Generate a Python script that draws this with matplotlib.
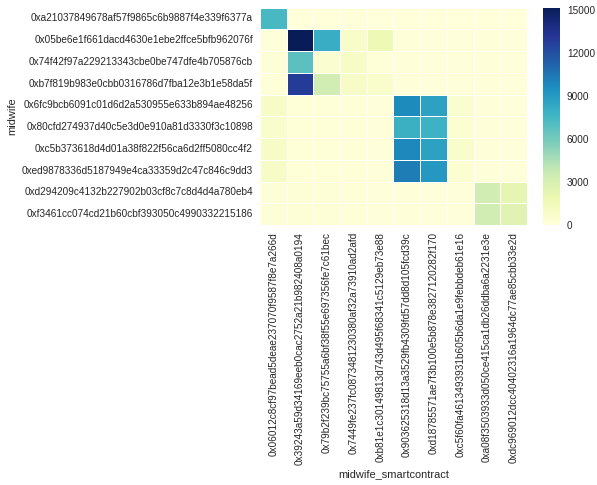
import matplotlib
matplotlib.use("Agg")
import matplotlib.pyplot as plt
import seaborn as sns
import pandas as pd

midwife = [
    "0xa21037849678af57f9865c6b9887f4e339f6377a",
    "0x05be6e1f661dacd4630e1ebe2ffce5bfb962076f",
    "0x74f42f97a229213343cbe0be747dfe4b705876cb",
    "0xb7f819b983e0cbb0316786d7fba12e3b1e58da5f",
    "0x6fc9bcb6091c01d6d2a530955e633b894ae48256",
    "0x80cfd274937d40c5e3d0e910a81d3330f3c10898",
    "0xc5b373618d4d01a38f822f56ca6d2ff5080cc4f2",
    "0xed9878336d5187949e4ca33359d2c47c846c9dd3",
    "0xd294209c4132b227902b03cf8c7c8d4d4a780eb4",
    "0xf3461cc074cd21b60cbf393050c4990332215186",
]
contracts = [
    "0x06012c8cf97bead5deae237070f9587f8e7a266d",
    "0x39243a59d34169eeb0cac2752a21b982408a0194",
    "0x79b2f239bc75755a6bf38f55e697356fe7c61bec",
    "0x7449fe237fc0873481230380af32a73910ad2afd",
    "0xb81e1c30149813d743d495f68341c5129eb73e88",
    "0x903625318d13a3529fb4309fd57dd8d105fcd39c",
    "0xd18785571ae7f3b100e5b878e3827120282f170",
    "0xc5f60fa4613493931b605b6da1e9febbdeb61e16",
    "0xa08f3503933d050ce415ca1db26ddba6a2231e3e",
    "0xdc969012dcc40402316a1964dc77ae85cbb33e2d",
]

# values per midwife row
row_a210 = [7400, 40, 40, 60, 40, 40, 40, 30, 30, 30]
row_05be = [60, 15170, 8000, 800, 1700, 80, 80, 60, 60, 60]
row_74f4 = [200, 6700, 500, 900, 150, 80, 80, 60, 60, 60]
row_b7f8 = [150, 12900, 3300, 900, 700, 100, 100, 60, 60, 60]
row_6fc9 = [900, 150, 150, 150, 100, 9700, 8700, 500, 100, 100]
row_80cf = [600, 150, 150, 150, 100, 7900, 7800, 400, 100, 100]
row_c5b3 = [900, 150, 150, 150, 100, 9800, 8700, 600, 100, 100]
row_ed98 = [900, 150, 150, 150, 100, 10200, 9100, 400, 100, 100]
row_d294 = [200, 200, 200, 150, 100, 100, 100, 100, 3300, 2300]
row_f346 = [200, 200, 200, 150, 100, 100, 100, 100, 3300, 2600]

data = pd.DataFrame(
    [row_a210, row_05be, row_74f4, row_b7f8, row_6fc9,
     row_80cf, row_c5b3, row_ed98, row_d294, row_f346],
    index=midwife, columns=contracts)
data.index.name = "midwife"
data.columns.name = "midwife_smartcontract"

sns.set_style("darkgrid")
plt.rcParams['font.family'] = ['Liberation Sans', 'DejaVu Sans']
plt.rcParams['xtick.labelsize'] = 10
plt.rcParams['ytick.labelsize'] = 10
plt.rcParams['axes.labelsize'] = 11
plt.rcParams['xtick.major.pad'] = 7
plt.rcParams['ytick.major.pad'] = 7

fig = plt.figure(figsize=(597/72, 485/72), dpi=72)
ax = fig.add_axes([0.4355, 0.536, 0.4472, 0.4485])
cax = fig.add_axes([0.9095, 0.536, 0.0285, 0.4485])
sns.heatmap(data, cmap="YlGnBu", linewidths=1, linecolor="white",
            vmin=0, ax=ax, cbar_ax=cax)
cax.set_yticks([0, 3000, 6000, 9000, 12000, 15000])
cax.tick_params(length=0)
ax.tick_params(length=0)
plt.setp(ax.get_xticklabels(), rotation=90)
plt.setp(ax.get_yticklabels(), rotation=0)

fig.savefig("out.png", dpi=72)
